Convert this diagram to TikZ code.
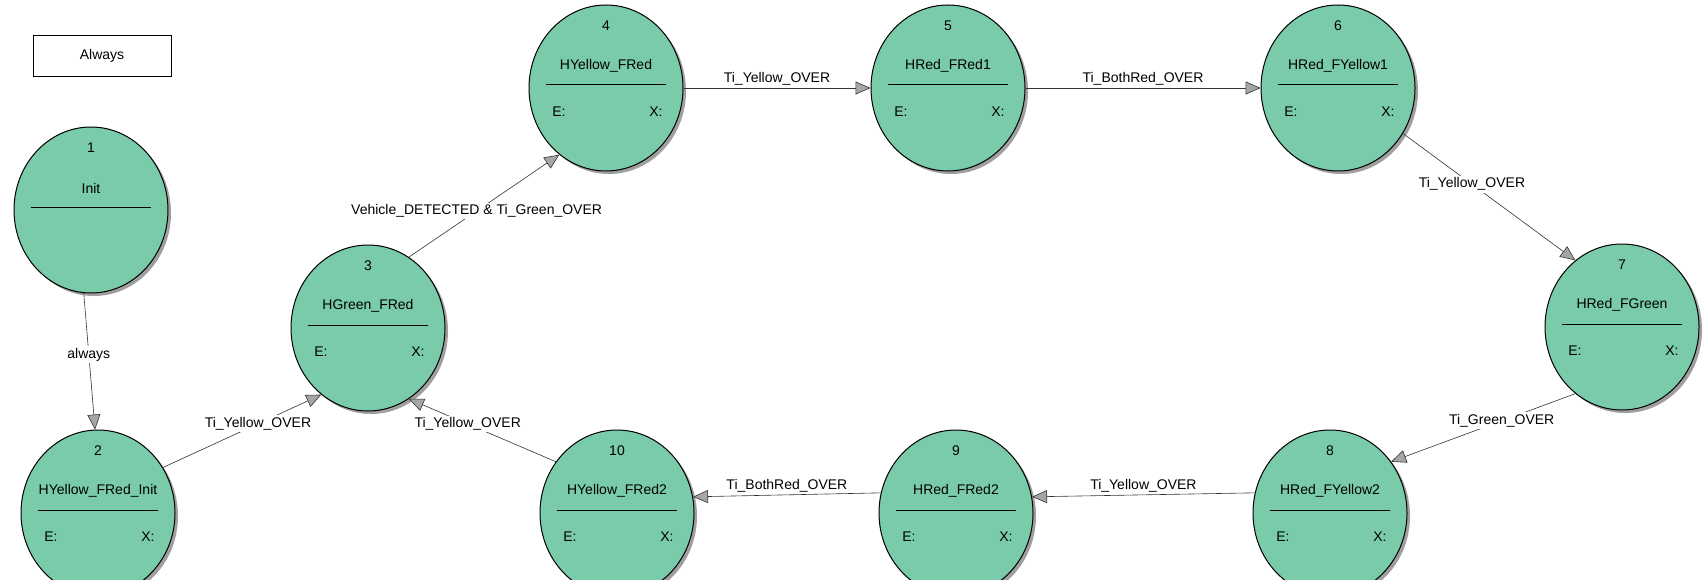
\documentclass[tikz,border=0pt]{standalone}
\usepackage{fontspec}
\setmainfont{Liberation Sans}
\usetikzlibrary{shapes.geometric,arrows.meta}
\definecolor{stfill}{RGB}{122,203,170}
\tikzset{
  st/.style={ellipse,draw=black,fill=stfill,line width=1pt,minimum width=154pt,minimum height=166pt,inner sep=0pt},
  shd/.style={ellipse,fill=gray!75,minimum width=154pt,minimum height=166pt,inner sep=0pt},
  txt/.style={font=\fontsize{14}{16}\selectfont,inner sep=1pt},
  tr/.style={draw=black!80,line width=0.6pt,-{Triangle[length=15pt,width=13pt,fill=gray!70]}},
  lab/.style={font=\fontsize{14}{16}\selectfont,fill=white,inner sep=2pt}
}
\newcommand\mkstate[6]{%
  \node[shd] at (#2+3,#3+3) {};
  \node[st] (#1) at (#2,#3) {};
  \node[txt] at (#2,#3-62) {#4};
  \node[txt] at (#2,#3-22) {#5};
  \draw[line width=1pt] (#2-60,#3-3) -- (#2+60,#3-3);
  \ifx&#6&\else
  \node[txt] at (#2-47,#3+24) {E:};
  \node[txt] at (#2+50,#3+24) {X:};\fi
}
\begin{document}
\begin{tikzpicture}[x=1pt,y=-1pt]
\useasboundingbox (0,0) rectangle (1704,580);
\clip (0,0) rectangle (1704,580);
\fill[white] (0,0) rectangle (1704,580);
\node[draw=black,line width=1pt,minimum width=138pt,minimum height=41pt,txt] (always) at (102,56) {Always};
\mkstate{n1}{91}{210}{1}{Init}{}
\mkstate{n2}{98}{513}{2}{HYellow\_FRed\_Init}{x}
\mkstate{n3}{368}{328}{3}{HGreen\_FRed}{x}
\mkstate{n4}{606}{88}{4}{HYellow\_FRed}{x}
\mkstate{n5}{948}{88}{5}{HRed\_FRed1}{x}
\mkstate{n6}{1338}{88}{6}{HRed\_FYellow1}{x}
\mkstate{n7}{1622}{327}{7}{HRed\_FGreen}{x}
\mkstate{n8}{1330}{513}{8}{HRed\_FYellow2}{x}
\mkstate{n9}{956}{513}{9}{HRed\_FRed2}{x}
\mkstate{n10}{617}{513}{10}{HYellow\_FRed2}{x}
\draw[tr] (n1.265) -- node[lab,pos=0.45]{always} (n2.92);
\draw[tr] (n2.35) -- node[lab,pos=0.6]{Ti\_Yellow\_OVER} (n3.235);
\draw[tr] (n3.60) -- node[lab,pos=0.45]{Vehicle\_DETECTED \& Ti\_Green\_OVER} (n4.235);
\draw[tr] (n4.0) -- node[lab,above,fill=none]{Ti\_Yellow\_OVER} (n5.180);
\draw[tr] (n5.0) -- node[lab,above,fill=none]{Ti\_BothRed\_OVER} (n6.180);
\draw[tr] (n6.-35) -- node[lab,pos=0.4]{Ti\_Yellow\_OVER} (n7.125);
\draw[tr] (n7.235) -- node[lab,pos=0.4]{Ti\_Green\_OVER} (n8.40);
\draw[tr] (n8.165) -- node[lab,above,fill=none]{Ti\_Yellow\_OVER} (n9.12);
\draw[tr] (n9.165) -- node[lab,above,fill=none]{Ti\_BothRed\_OVER} (n10.12);
\draw[tr] (n10.140) -- node[lab,pos=0.6]{Ti\_Yellow\_OVER} (n3.-60);
\end{tikzpicture}
\end{document}
